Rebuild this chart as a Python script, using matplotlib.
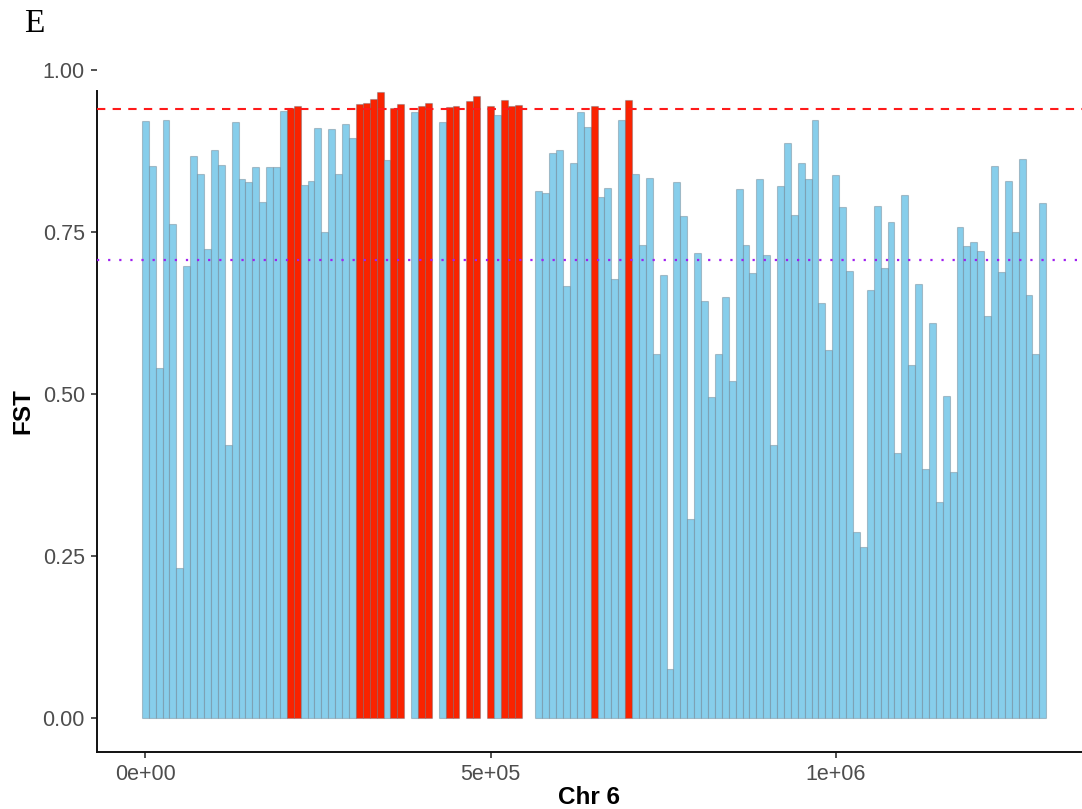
import numpy as np
import matplotlib
matplotlib.use("Agg")
import matplotlib.pyplot as plt

plt.rcParams['font.family'] = ['Liberation Sans', 'DejaVu Sans']

# window size on chr 6 (bp) and FST per window, NaN = no window
WIN = 10000
fst = [
    0.921, 0.852, 0.540, 0.923, 0.762, 0.231, 0.697, 0.867, 0.839, 0.723,
    0.877, 0.853, 0.421, 0.920, 0.831, 0.827, 0.850, 0.797, 0.850, 0.851,
    0.937, 0.941, 0.945, 0.823, 0.829, 0.910, 0.750, 0.909, 0.840, 0.916,
    0.895, 0.947, 0.949, 0.955, 0.966, 0.861, 0.942, 0.947, np.nan, 0.935,
    0.945, 0.949, np.nan, 0.920, 0.943, 0.945, np.nan, 0.952, 0.960, np.nan,
    0.945, 0.931, 0.953, 0.944, 0.946, np.nan, np.nan, 0.813, 0.810, 0.872,
    0.877, 0.666, 0.857, 0.935, 0.912, 0.945, 0.804, 0.818, 0.678, 0.923,
    0.953, 0.840, 0.730, 0.834, 0.561, 0.683, 0.075, 0.827, 0.775, 0.307,
    0.718, 0.644, 0.496, 0.562, 0.649, 0.520, 0.816, 0.730, 0.686, 0.831,
    0.715, 0.421, 0.821, 0.888, 0.776, 0.857, 0.831, 0.923, 0.641, 0.568,
    0.838, 0.789, 0.690, 0.287, 0.264, 0.660, 0.790, 0.695, 0.765, 0.409,
    0.807, 0.545, 0.669, 0.384, 0.610, 0.333, 0.497, 0.380, 0.757, 0.728,
    0.735, 0.721, 0.620, 0.852, 0.688, 0.828, 0.750, 0.863, 0.653, 0.561,
    0.795,
]
pos = [i * WIN for i in range(len(fst))]

CUTOFF = 0.94      # top windows (red dashed)
MEAN_FST = 0.707   # genome mean (purple dotted)

y_ticks = [0.0, 0.25, 0.5, 0.75, 1.0]
y_labels = ['0.00', '0.25', '0.50', '0.75', '1.00']
x_ticks = [0, 5e5, 1e6]
x_labels = ['0e+00', '5e+05', '1e+06']

BLUE = '#87CEEB'
RED = '#FA2300'

fig = plt.figure(figsize=(10.82, 8.09), dpi=100)
ax = fig.add_axes([0.0894, 0.0708, 0.9106, 0.8427])

x = np.array(pos, dtype=float)
y = np.array(fst, dtype=float)
ok = ~np.isnan(y)
cols = [RED if v > CUTOFF else BLUE for v in y[ok]]
ax.bar(x[ok], y[ok], width=WIN, color=cols, edgecolor=(0.35, 0.4, 0.45, 0.35),
       linewidth=0.8, zorder=2)

ax.axhline(CUTOFF, color='#FF1A1A', linestyle=(0, (4, 3.5)), linewidth=1.5, zorder=3)
ax.axhline(MEAN_FST, color='#A020F0', linestyle=(0, (1, 4)), linewidth=1.6, zorder=3)

ax.set_xlim(-70400, 1356700)
ax.set_ylim(-0.052, 1.0)

ax.spines['top'].set_visible(False)
ax.spines['right'].set_visible(False)
ax.spines['left'].set_bounds(-0.052, 0.9676)
for s in ('left', 'bottom'):
    ax.spines[s].set_linewidth(1.4)
    ax.spines[s].set_color('#111111')

ax.set_yticks(y_ticks)
ax.set_yticklabels(y_labels)
ax.set_xticks(x_ticks)
ax.set_xticklabels(x_labels)
ax.tick_params(length=4.5, width=1.2, color='#333333', labelsize=15.5,
               labelcolor='#4D4D4D', pad=4)

ax.set_ylabel('FST', fontsize=17.5, fontweight='bold', labelpad=6)
ax.set_xlabel('Chr 6', fontsize=17.5, fontweight='bold', labelpad=1)

fig.text(0.022, 0.960, 'E', fontsize=24, family=['Liberation Serif', 'DejaVu Serif'],
         ha='left', va='baseline')

fig.savefig('out.png', dpi=100)
